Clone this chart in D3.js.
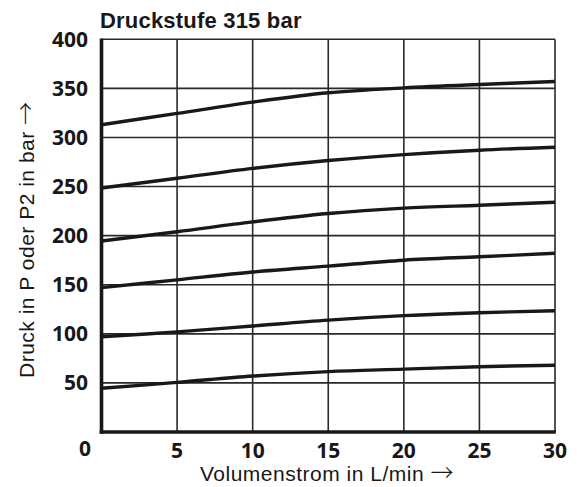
<!DOCTYPE html>
<html>
<head>
<meta charset="utf-8">
<script src="https://cdn.jsdelivr.net/npm/d3@7"></script>
<style>
  body { margin: 0; background: #fff; }
  text { fill: #1a1718; }
  .tick { font-family: "Open Sans", "Noto Sans", sans-serif; font-weight: 700; font-size: 21px; }
  .title { font-family: "Liberation Sans", Arial, sans-serif; font-weight: 700; font-size: 22px; letter-spacing: 0.2px; }
  .axtitle { font-family: "Liberation Sans", Arial, sans-serif; font-size: 21px; letter-spacing: 0.5px; }
  .arrow { font-family: "Noto Sans CJK JP", sans-serif; font-weight: 300; font-size: 23px; letter-spacing: 0; }
</style>
</head>
<body>
<div id="chart"></div>
<script>
// flow in L/min
var flow = [0, 5, 10, 15, 20, 25, 30];
// pressure curves in bar
var curve1 = [313, 324.5, 336, 345.5, 350.5, 354, 357];
var curve2 = [248.5, 258.5, 268.5, 276.5, 282.5, 287, 290];
var curve3 = [194.5, 204, 214, 222.5, 228, 231, 234];
var curve4 = [147, 155, 163, 169, 175, 178.5, 182];
var curve5 = [97, 102, 108, 114, 118.5, 121.5, 123.5];
var curve6 = [44.5, 50.5, 57, 61.5, 64, 66.5, 68];
var xTicks = [5, 10, 15, 20, 25, 30];
var yTicks = [50, 100, 150, 200, 250, 300, 350, 400];

var svg = d3.select("#chart").append("svg")
  .attr("width", 577)
  .attr("height", 487);

var x = d3.scaleLinear().domain([0, 30]).range([101.5, 555]);
var y = d3.scaleLinear().domain([0, 400]).range([432, 39.3]);

// grid
svg.append("g").selectAll("line")
  .data(xTicks).enter().append("line")
    .attr("x1", d => x(d)).attr("x2", d => x(d))
    .attr("y1", y(400)).attr("y2", y(0))
    .attr("stroke", "#2b2829").attr("stroke-width", 1.6);

svg.append("g").selectAll("line")
  .data(yTicks).enter().append("line")
    .attr("x1", x(0)).attr("x2", x(30))
    .attr("y1", d => y(d)).attr("y2", d => y(d))
    .attr("stroke", "#2b2829").attr("stroke-width", 1.6);

// axes (thick)
svg.append("line")
  .attr("x1", x(0)).attr("x2", x(0))
  .attr("y1", y(400) - 0.8).attr("y2", y(0) + 1.8)
  .attr("stroke", "#1a1718").attr("stroke-width", 3.6);
svg.append("line")
  .attr("x1", x(0) - 1.8).attr("x2", x(30) + 0.8)
  .attr("y1", y(0)).attr("y2", y(0))
  .attr("stroke", "#1a1718").attr("stroke-width", 3.6);

// curves
var line = d3.line()
  .x((d, i) => x(flow[i]))
  .y(d => y(d))
  .curve(d3.curveCatmullRom);

svg.append("g").selectAll("path")
  .data([curve1, curve2, curve3, curve4, curve5, curve6])
  .enter().append("path")
    .attr("d", line)
    .attr("fill", "none")
    .attr("stroke", "#1a1718")
    .attr("stroke-width", 3.4);

// tick labels
svg.append("g").selectAll("text")
  .data(yTicks).enter().append("text")
    .attr("class", "tick")
    .attr("x", 88)
    .attr("y", d => y(d))
    .attr("dy", "0.36em")
    .attr("text-anchor", "end")
    .text(d => d);

svg.append("g").selectAll("text")
  .data(xTicks).enter().append("text")
    .attr("class", "tick")
    .attr("x", d => x(d))
    .attr("y", 458)
    .attr("text-anchor", "middle")
    .text(d => d);

svg.append("text")
  .attr("class", "tick")
  .attr("x", 85).attr("y", 456)
  .attr("text-anchor", "middle")
  .text("0");

// titles
svg.append("text")
  .attr("class", "title")
  .attr("x", 100).attr("y", 28)
  .text("Druckstufe 315 bar");

var xt = svg.append("text")
  .attr("class", "axtitle")
  .attr("x", 200).attr("y", 480.5);
xt.append("tspan").text("Volumenstrom in L/min ");
xt.append("tspan").attr("class", "arrow").text("\u2192");

var yt = svg.append("text")
  .attr("class", "axtitle")
  .attr("transform", "translate(34,378) rotate(-90)");
yt.append("tspan").text("Druck in P oder P2 in bar ");
yt.append("tspan").attr("class", "arrow").text("\u2192");
</script>
</body>
</html>
